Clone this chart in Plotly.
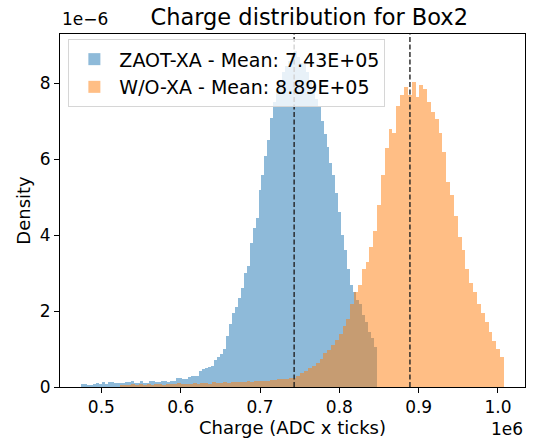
import numpy as np
import plotly.graph_objects as go

# Charge axis in units of 1e6 ADC x ticks, density in units of 1e-6
blue_label = "ZAOT-XA - Mean: 7.43E+05"
orange_label = "W/O-XA - Mean: 8.89E+05"
blue_mean = 0.743
orange_mean = 0.889

blue_first_edge = 0.4745
blue_bin_width = 0.003727
blue_density = [
    0.09, 0.09, 0.06, 0.06, 0.08, 0.10, 0.08, 0.13, 0.08, 0.13,
    0.13, 0.10, 0.10, 0.10, 0.10, 0.12, 0.12, 0.17, 0.10, 0.10,
    0.16, 0.10, 0.10, 0.15, 0.15, 0.13, 0.13, 0.15, 0.15, 0.12,
    0.17, 0.17, 0.24, 0.24, 0.20, 0.20, 0.26, 0.30, 0.28, 0.30,
    0.42, 0.47, 0.50, 0.52, 0.55, 0.72, 0.80, 0.86, 1.00, 1.34,
    1.65, 1.95, 2.10, 2.35, 2.60, 3.00, 3.20, 3.80, 4.20, 4.45,
    5.20, 5.60, 6.10, 6.50, 7.10, 7.50, 7.80, 8.10, 8.30, 8.45,
    8.60, 8.75, 8.86, 8.70, 8.55, 8.50, 8.30, 8.10, 7.90, 7.60,
    7.37, 7.00, 6.68, 6.32, 5.90, 5.60, 5.10, 4.60, 4.00, 3.60,
    3.10, 2.70, 2.50, 2.30, 2.20, 1.90, 1.70, 1.45, 1.30, 1.05,
]

orange_first_edge = 0.5232
orange_bin_width = 0.004842
orange_density = [
    0.05, 0.06, 0.04, 0.07, 0.06, 0.08, 0.05, 0.07, 0.06, 0.08,
    0.07, 0.06, 0.09, 0.07, 0.08, 0.10, 0.07, 0.09, 0.08, 0.10,
    0.09, 0.11, 0.10, 0.09, 0.12, 0.10, 0.11, 0.13, 0.10, 0.12,
    0.14, 0.12, 0.13, 0.15, 0.14, 0.16, 0.15, 0.17, 0.16, 0.18,
    0.19, 0.20, 0.21, 0.20, 0.23, 0.25, 0.30, 0.36, 0.42, 0.50,
    0.56, 0.63, 0.75, 0.90, 0.98, 1.10, 1.24, 1.40, 1.60, 1.80,
    2.20, 2.50, 2.70, 3.10, 3.30, 3.70, 4.10, 4.80, 5.60, 6.30,
    6.80, 6.70, 7.40, 7.70, 7.90, 7.70, 8.05, 7.65, 7.95, 7.85,
    7.50, 7.25, 7.05, 6.70, 6.20, 5.40, 5.05, 4.50, 3.95, 3.60,
    3.10, 2.75, 2.50, 2.20, 1.95, 1.70, 1.45, 1.20, 1.00, 0.78,
]

x_tick_vals = [0.5, 0.6, 0.7, 0.8, 0.9, 1.0]
x_tick_text = ["0.5", "0.6", "0.7", "0.8", "0.9", "1.0"]
y_tick_vals = [0, 2, 4, 6, 8]
y_tick_text = ["0", "2", "4", "6", "8"]

FONT = "DejaVu Sans"

def centers(first, width, n):
    return first + width * (np.arange(n) + 0.5)

fig = go.Figure()
fig.add_trace(go.Bar(
    x=centers(blue_first_edge, blue_bin_width, len(blue_density)),
    y=blue_density, width=blue_bin_width, name=blue_label,
    marker=dict(color="#1f77b4", line=dict(width=0)), opacity=0.5,
))
fig.add_trace(go.Bar(
    x=centers(orange_first_edge, orange_bin_width, len(orange_density)),
    y=orange_density, width=orange_bin_width, name=orange_label,
    marker=dict(color="#ff7f0e", line=dict(width=0)), opacity=0.5,
))

for m in (blue_mean, orange_mean):
    fig.add_shape(type="line", xref="x", yref="paper", x0=m, x1=m, y0=0, y1=1,
                  line=dict(color="#222222", width=1.4, dash="5px,2.5px"))

all_vals = blue_density + orange_density
lo = min(blue_first_edge, orange_first_edge)
hi = max(blue_first_edge + blue_bin_width * len(blue_density),
         orange_first_edge + orange_bin_width * len(orange_density))
pad = 0.05 * (hi - lo)

axis_common = dict(showline=True, linecolor="black", linewidth=1, mirror=True,
                   ticks="outside", ticklen=5, tickwidth=1, tickcolor="black",
                   showgrid=False, zeroline=False, automargin=False,
                   tickfont=dict(family=FONT, size=17, color="black"))

fig.update_layout(
    width=535, height=438,
    margin=dict(l=60, r=10, t=34, b=51),
    paper_bgcolor="white", plot_bgcolor="white",
    barmode="overlay", bargap=0,
    font=dict(family=FONT, color="black"),
    title=dict(text="Charge distribution for Box2", x=0.578, xanchor="center",
               y=0.962, yanchor="middle", font=dict(family=FONT, size=22.5, color="black")),
    xaxis=dict(range=[lo - pad, hi + pad], tickvals=x_tick_vals, ticktext=x_tick_text,
               title=dict(text="Charge (ADC x ticks)", font=dict(family=FONT, size=18), standoff=4),
               **axis_common),
    yaxis=dict(range=[0, max(all_vals) * 1.05], tickvals=y_tick_vals, ticktext=y_tick_text,
               title=dict(text="Density", font=dict(family=FONT, size=18), standoff=4),
               **axis_common),
    legend=dict(x=0.018, y=0.985, xanchor="left", yanchor="top",
                bgcolor="rgba(255,255,255,0.8)", bordercolor="#d6d6d6", borderwidth=1,
                itemwidth=40,
                font=dict(family=FONT, size=19, color="black"), tracegroupgap=5),
    showlegend=True,
)

fig.add_annotation(text="1e\u22126", xref="paper", yref="paper", x=0, y=1,
                   xanchor="left", yanchor="bottom", yshift=3, showarrow=False,
                   font=dict(family=FONT, size=17, color="black"))
fig.add_annotation(text="1e6", xref="paper", yref="paper", x=1, y=0,
                   xanchor="right", yanchor="top", yshift=-30, showarrow=False,
                   font=dict(family=FONT, size=17, color="black"))

fig.write_html("out.html")
